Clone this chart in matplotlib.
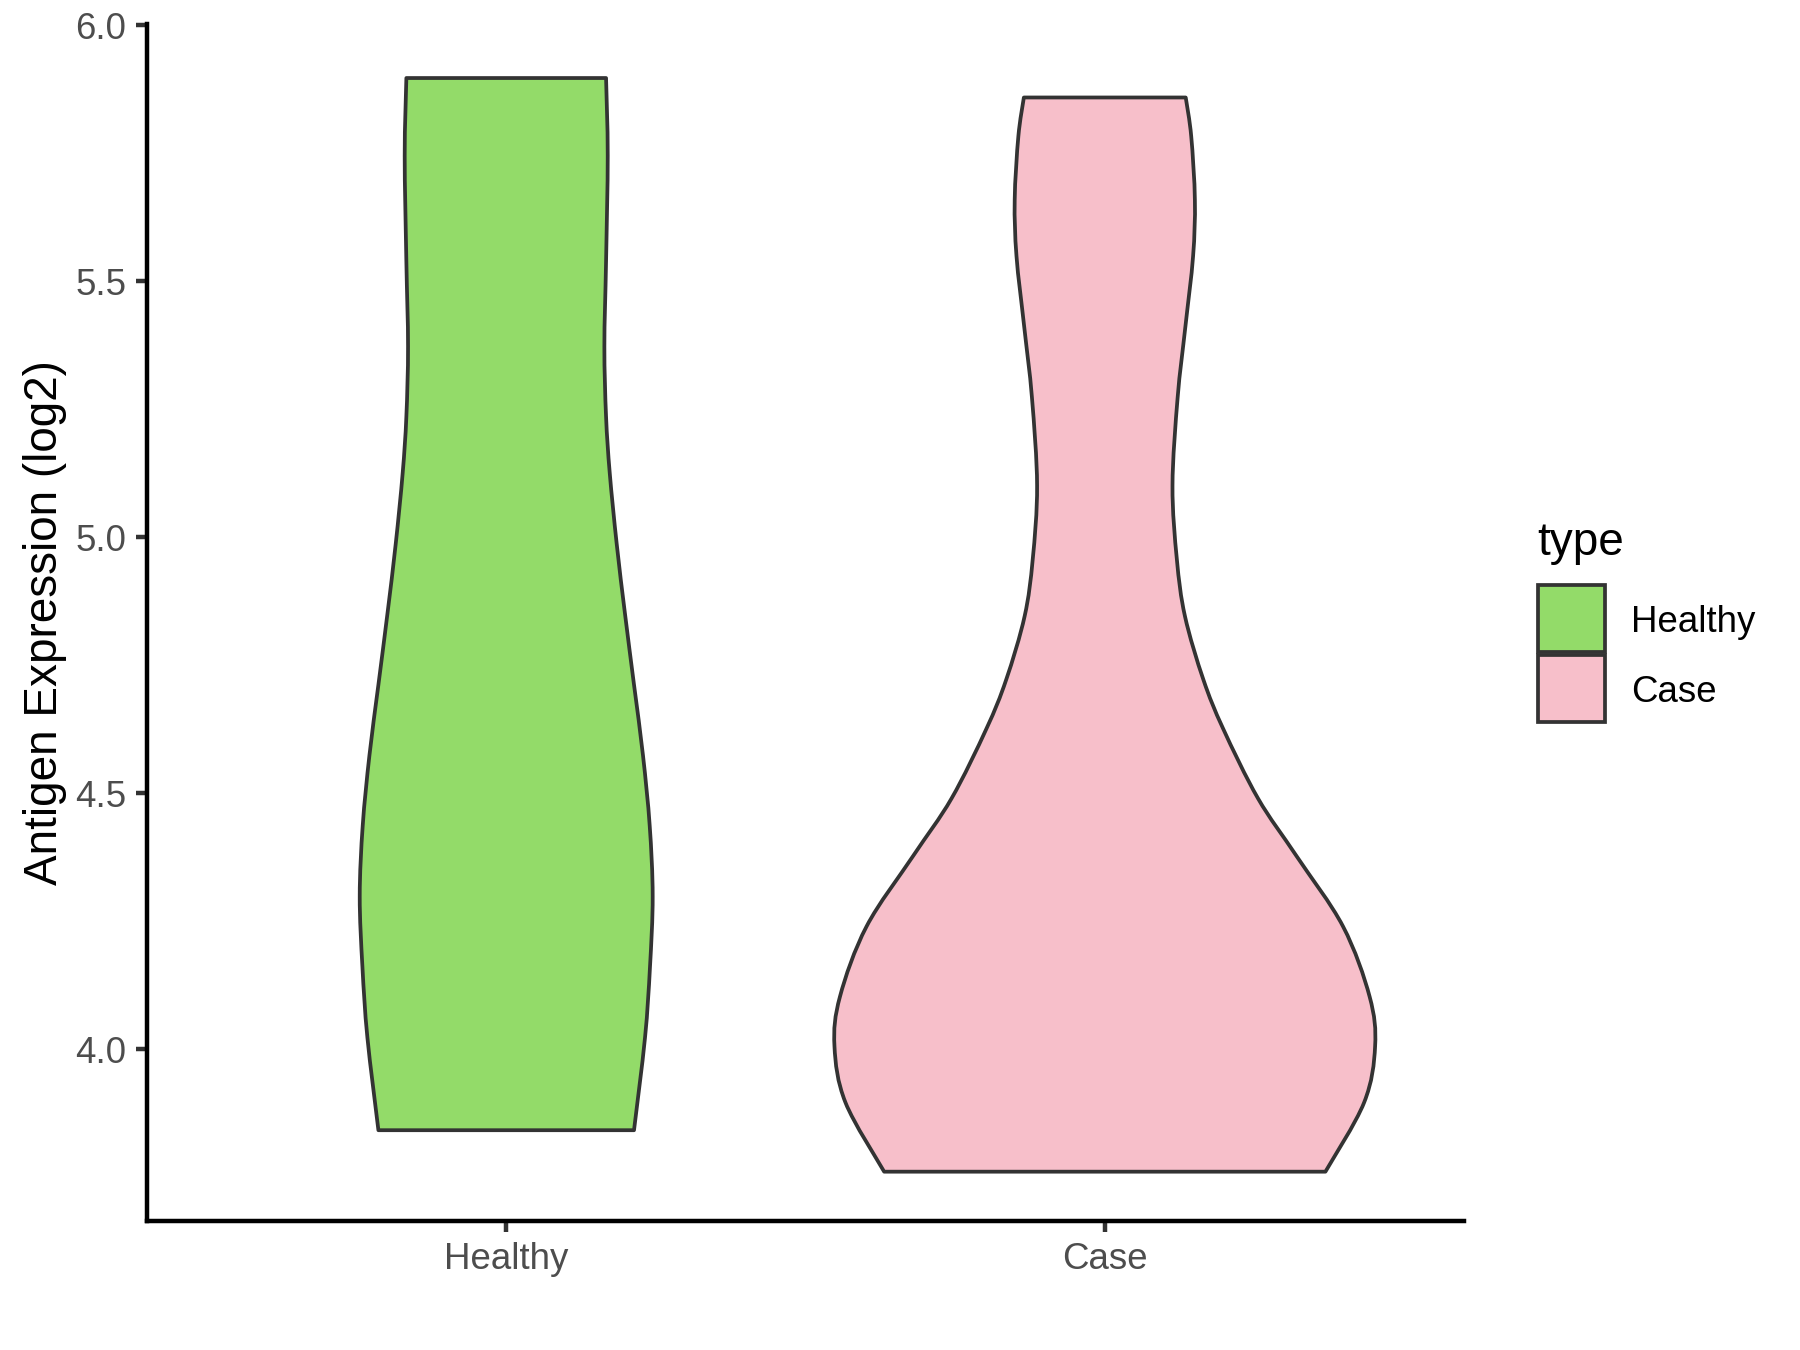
import numpy as np
import matplotlib
matplotlib.use("Agg")
import matplotlib.pyplot as plt
from matplotlib.path import Path
from matplotlib.patches import PathPatch, Rectangle

plt.rcParams['font.family'] = ['Liberation Sans', 'DejaVu Sans']

# violin outlines: expression level and half-width (in x units)
groups = ['Healthy', 'Case']
colors = ['#93DB69', '#F7BFCA']

healthy_y = [3.842, 4.023, 4.161, 4.299, 4.437, 4.574, 4.712, 4.850, 4.987,
             5.125, 5.236, 5.373, 5.538, 5.745, 5.897]
healthy_w = [0.2135, 0.2319, 0.2402, 0.2447, 0.2397, 0.2285, 0.2135, 0.1985, 0.1846,
             0.1730, 0.1668, 0.1640, 0.1668, 0.1696, 0.1668]

case_y = [3.761, 3.896, 4.006, 4.103, 4.240, 4.378, 4.490, 4.626, 4.722,
          4.846, 4.957, 5.101, 5.273, 5.411, 5.549, 5.659, 5.783, 5.859]
case_w = [0.3686, 0.4332, 0.4516, 0.4424, 0.3980, 0.3200, 0.2560, 0.1978, 0.1647,
          0.1339, 0.1204, 0.1131, 0.1217, 0.1346, 0.1475, 0.1505, 0.1444, 0.1352]

yticks = [4.0, 4.5, 5.0, 5.5, 6.0]


def bezier_side(pts):
    """Catmull-Rom through pts, returned as cubic bezier vertices (no start point)."""
    p = np.vstack([pts[0], pts, pts[-1]])
    verts = []
    for i in range(1, len(p) - 2):
        c1 = p[i] + (p[i + 1] - p[i - 1]) / 6
        c2 = p[i + 1] - (p[i + 2] - p[i]) / 6
        verts += [c1, c2, p[i + 1]]
    return verts


def violin_path(pos, ys, ws):
    ys = np.asarray(ys)
    ws = np.asarray(ws)
    left = np.column_stack([pos - ws, ys])
    right = np.column_stack([pos + ws, ys])[::-1]
    lv = bezier_side(left)
    rv = bezier_side(right)
    verts = [left[0]] + lv + [right[0]] + rv + [left[0]]
    codes = ([Path.MOVETO] + [Path.CURVE4] * len(lv) + [Path.LINETO]
             + [Path.CURVE4] * len(rv) + [Path.CLOSEPOLY])
    return Path(verts, codes)


fig = plt.figure(figsize=(6, 4.5), dpi=300)
ax = fig.add_axes([0.0817, 0.0953, 0.7316, 0.8871])

profiles = [(healthy_y, healthy_w), (case_y, case_w)]
for i, (ys, ws) in enumerate(profiles):
    patch = PathPatch(violin_path(i + 1, ys, ws), facecolor=colors[i],
                      edgecolor='#333333', linewidth=0.9, joinstyle='round', zorder=2)
    ax.add_patch(patch)

ax.set_xlim(0.4, 2.6)
ax.set_ylim(3.664, 6.003)
ax.set_xticks([1, 2])
ax.set_xticklabels(groups)
ax.set_yticks(yticks)
ax.set_yticklabels([f'{v:.1f}' for v in yticks])

for s in ['top', 'right']:
    ax.spines[s].set_visible(False)
for s in ['left', 'bottom']:
    ax.spines[s].set_linewidth(1.07)
    ax.spines[s].set_color('black')

ax.tick_params(direction='out', length=2.75, width=1.07, color='#333333',
               labelcolor='#4D4D4D', labelsize=8.8, pad=2.2)
ax.set_ylabel('Antigen Expression (log2)', fontsize=11, color='black', labelpad=2.0)

# legend, ggplot style: title, stacked square keys, labels
W, H = 1800, 1350
fig.text(1537 / W, 1 - 555 / H, 'type', fontsize=11, color='black',
         ha='left', va='baseline')
key_top = [585, 655]
for top, c, lab in zip(key_top, colors, groups):
    fig.add_artist(Rectangle((1538 / W, 1 - (top + 67) / H), 67 / W, 67 / H,
                             transform=fig.transFigure, facecolor=c,
                             edgecolor='#333333', linewidth=0.9))
    fig.text(1631 / W, 1 - (top + 33.5) / H, lab, fontsize=8.8, color='black',
             ha='left', va='center_baseline')

fig.savefig('out.png', dpi=300, facecolor='white')
